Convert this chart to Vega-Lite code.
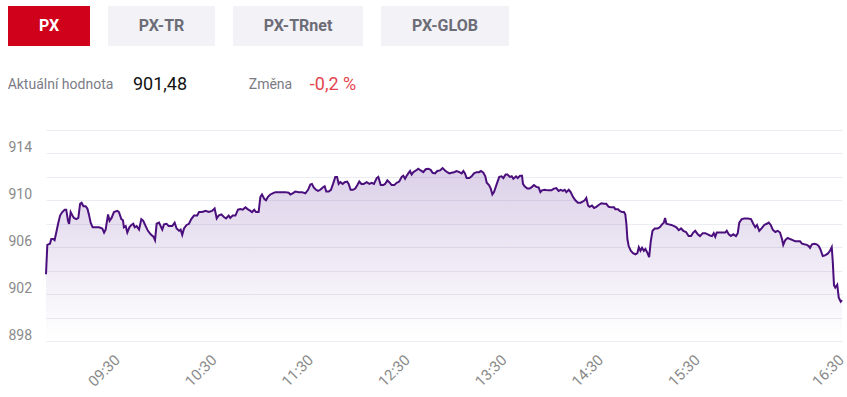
{
  "$schema": "https://vega.github.io/schema/vega-lite/v6.json",
  "background": "white",
  "padding": {"left": 7, "top": 6, "right": 0, "bottom": 0},
  "config": {"font": "Roboto", "view": {"stroke": null}},
  "spacing": 33,
  "datasets": {
    "px": [
      {"t": 540.0, "v": 903.7}, {"t": 540.6, "v": 906.2}, {"t": 541.8, "v": 906.3}, {"t": 542.4, "v": 906.7}, {"t": 543.3, "v": 906.7}, {"t": 543.9, "v": 906.6}, {"t": 544.5, "v": 907.1}, {"t": 545.5, "v": 908.0}, {"t": 546.4, "v": 908.7}, {"t": 547.4, "v": 909.0}, {"t": 548.5, "v": 909.2}, {"t": 549.2, "v": 909.2}, {"t": 550.0, "v": 908.25}, {"t": 550.5, "v": 908.0}, {"t": 551.2, "v": 909.0}, {"t": 552.0, "v": 908.7}, {"t": 552.7, "v": 908.5}, {"t": 553.8, "v": 908.4}, {"t": 554.7, "v": 908.5}, {"t": 555.5, "v": 909.7}, {"t": 556.2, "v": 909.8}, {"t": 557.0, "v": 909.5}, {"t": 558.0, "v": 909.5}, {"t": 558.8, "v": 909.3}, {"t": 559.5, "v": 908.8}, {"t": 560.3, "v": 908.1}, {"t": 561.2, "v": 907.7}, {"t": 562.6, "v": 907.7}, {"t": 564.1, "v": 907.7}, {"t": 565.6, "v": 907.6}, {"t": 566.4, "v": 907.25}, {"t": 567.1, "v": 907.5}, {"t": 568.2, "v": 908.8}, {"t": 568.9, "v": 908.25}, {"t": 569.8, "v": 908.5},
      {"t": 571.2, "v": 909.0}, {"t": 573.3, "v": 909.1}, {"t": 574.3, "v": 909.0}, {"t": 575.8, "v": 908.4}, {"t": 576.8, "v": 908.3}, {"t": 577.4, "v": 907.7}, {"t": 578.5, "v": 907.8}, {"t": 579.5, "v": 907.25}, {"t": 580.8, "v": 907.7}, {"t": 582.0, "v": 907.9}, {"t": 583.2, "v": 908.0}, {"t": 584.1, "v": 907.7}, {"t": 585.3, "v": 907.8}, {"t": 586.8, "v": 907.5}, {"t": 588.2, "v": 908.4}, {"t": 589.4, "v": 908.25}, {"t": 590.9, "v": 907.8}, {"t": 592.3, "v": 907.4}, {"t": 594.0, "v": 907.1}, {"t": 595.7, "v": 906.9}, {"t": 596.7, "v": 906.6}, {"t": 597.7, "v": 908.0}, {"t": 599.2, "v": 908.1}, {"t": 600.2, "v": 907.8}, {"t": 601.2, "v": 907.5}, {"t": 602.3, "v": 907.95}, {"t": 603.9, "v": 908.0}, {"t": 605.2, "v": 907.8}, {"t": 607.4, "v": 907.8}, {"t": 608.9, "v": 908.1}, {"t": 610.1, "v": 907.6}, {"t": 611.6, "v": 907.4}, {"t": 612.6, "v": 907.5}, {"t": 613.6, "v": 907.05}, {"t": 614.7, "v": 907.6}, {"t": 616.3, "v": 907.9}, {"t": 617.8, "v": 908.0}, {"t": 619.2, "v": 908.4}, {"t": 620.9, "v": 908.7}, {"t": 622.9, "v": 908.7}, {"t": 624.0, "v": 909.0}, {"t": 626.0, "v": 909.0}, {"t": 628.1, "v": 909.1},
      {"t": 630.0, "v": 909.0}, {"t": 632.1, "v": 909.1}, {"t": 633.7, "v": 909.3}, {"t": 635.0, "v": 908.45}, {"t": 636.2, "v": 908.7}, {"t": 637.9, "v": 908.8}, {"t": 639.3, "v": 908.6}, {"t": 640.8, "v": 908.45}, {"t": 642.4, "v": 908.7}, {"t": 643.4, "v": 908.5}, {"t": 644.9, "v": 908.7}, {"t": 646.6, "v": 908.7}, {"t": 648.2, "v": 909.2}, {"t": 649.7, "v": 909.25}, {"t": 651.1, "v": 909.2}, {"t": 652.8, "v": 909.4}, {"t": 654.2, "v": 909.25}, {"t": 655.9, "v": 909.1}, {"t": 656.9, "v": 909.0}, {"t": 658.3, "v": 909.2}, {"t": 659.4, "v": 909.0}, {"t": 661.0, "v": 909.0}, {"t": 662.1, "v": 910.3}, {"t": 663.1, "v": 910.5}, {"t": 664.6, "v": 910.1}, {"t": 665.6, "v": 910.0}, {"t": 666.8, "v": 910.3}, {"t": 668.3, "v": 910.5}, {"t": 669.7, "v": 910.6}, {"t": 671.4, "v": 910.7}, {"t": 673.4, "v": 910.7}, {"t": 675.5, "v": 910.7}, {"t": 677.6, "v": 910.7}, {"t": 679.7, "v": 910.65}, {"t": 680.7, "v": 910.5}, {"t": 682.1, "v": 910.6}, {"t": 683.8, "v": 910.75}, {"t": 685.9, "v": 910.7}, {"t": 687.9, "v": 910.7}, {"t": 690.0, "v": 910.6}, {"t": 691.7, "v": 910.9}, {"t": 693.1, "v": 911.35}, {"t": 694.1, "v": 911.4}, {"t": 695.2, "v": 911.1}, {"t": 696.6, "v": 910.9}, {"t": 697.9, "v": 910.8}, {"t": 699.3, "v": 910.9}, {"t": 700.8, "v": 911.1}, {"t": 702.0, "v": 911.2}, {"t": 703.0, "v": 910.75}, {"t": 704.5, "v": 910.75}, {"t": 705.9, "v": 910.9}, {"t": 707.2, "v": 911.4}, {"t": 708.6, "v": 912.0}, {"t": 709.7, "v": 912.0}, {"t": 710.7, "v": 911.4}, {"t": 711.7, "v": 911.55}, {"t": 713.2, "v": 911.4}, {"t": 714.4, "v": 911.55}, {"t": 715.9, "v": 911.6}, {"t": 716.9, "v": 911.4}, {"t": 718.1, "v": 910.9}, {"t": 719.6, "v": 910.9}, {"t": 721.0, "v": 911.0}, {"t": 722.3, "v": 911.3}, {"t": 723.5, "v": 911.6}, {"t": 724.8, "v": 911.4}, {"t": 726.2, "v": 911.4},
      {"t": 728.1, "v": 911.55}, {"t": 729.7, "v": 911.4}, {"t": 731.2, "v": 911.5}, {"t": 732.6, "v": 911.4}, {"t": 734.3, "v": 911.9}, {"t": 735.3, "v": 912.0}, {"t": 736.8, "v": 911.3}, {"t": 738.4, "v": 911.3}, {"t": 739.5, "v": 911.4}, {"t": 740.9, "v": 911.7}, {"t": 742.1, "v": 911.55}, {"t": 743.6, "v": 911.3}, {"t": 745.2, "v": 911.3}, {"t": 746.7, "v": 911.5}, {"t": 748.3, "v": 911.6}, {"t": 749.8, "v": 912.0}, {"t": 750.8, "v": 912.1}, {"t": 751.9, "v": 911.85}, {"t": 752.9, "v": 912.1}, {"t": 753.9, "v": 912.3}, {"t": 755.0, "v": 912.5}, {"t": 756.0, "v": 912.2}, {"t": 757.0, "v": 912.4}, {"t": 758.7, "v": 912.55}, {"t": 760.1, "v": 912.7}, {"t": 761.6, "v": 912.55}, {"t": 763.2, "v": 912.4}, {"t": 764.7, "v": 912.65}, {"t": 766.3, "v": 912.7}, {"t": 767.8, "v": 912.6}, {"t": 769.0, "v": 912.35}, {"t": 770.5, "v": 912.3}, {"t": 771.9, "v": 912.5}, {"t": 773.6, "v": 912.55}, {"t": 775.2, "v": 912.75}, {"t": 776.7, "v": 912.55}, {"t": 778.1, "v": 912.4}, {"t": 779.4, "v": 912.3}, {"t": 780.8, "v": 912.35}, {"t": 782.3, "v": 912.4}, {"t": 783.9, "v": 912.5}, {"t": 785.6, "v": 912.4}, {"t": 787.0, "v": 912.3}, {"t": 788.1, "v": 912.5}, {"t": 789.1, "v": 912.3}, {"t": 790.1, "v": 911.9}, {"t": 791.8, "v": 911.9}, {"t": 793.2, "v": 912.05}, {"t": 794.7, "v": 912.3}, {"t": 796.3, "v": 912.4}, {"t": 797.8, "v": 912.4}, {"t": 799.0, "v": 912.5}, {"t": 800.5, "v": 912.35}, {"t": 801.7, "v": 912.05}, {"t": 802.6, "v": 911.5}, {"t": 804.0, "v": 911.3}, {"t": 805.1, "v": 911.0}, {"t": 806.1, "v": 910.5}, {"t": 807.1, "v": 910.7}, {"t": 808.1, "v": 911.1}, {"t": 809.2, "v": 911.55}, {"t": 810.4, "v": 912.0}, {"t": 811.8, "v": 912.05}, {"t": 812.9, "v": 911.9}, {"t": 814.3, "v": 912.2}, {"t": 815.4, "v": 912.2}, {"t": 817.0, "v": 912.0}, {"t": 818.1, "v": 912.05}, {"t": 819.1, "v": 911.85}, {"t": 820.8, "v": 912.05}, {"t": 821.8, "v": 911.9}, {"t": 823.3, "v": 912.1},
      {"t": 824.5, "v": 912.1}, {"t": 825.1, "v": 911.4}, {"t": 826.1, "v": 911.2}, {"t": 827.8, "v": 911.0}, {"t": 829.2, "v": 911.0}, {"t": 830.7, "v": 911.15}, {"t": 831.9, "v": 911.3}, {"t": 833.4, "v": 911.15}, {"t": 834.8, "v": 911.1}, {"t": 835.9, "v": 910.7}, {"t": 836.9, "v": 910.85}, {"t": 838.6, "v": 910.9}, {"t": 840.6, "v": 910.85}, {"t": 842.7, "v": 910.85}, {"t": 844.3, "v": 911.0}, {"t": 845.8, "v": 911.05}, {"t": 847.2, "v": 910.8}, {"t": 848.5, "v": 910.9}, {"t": 849.9, "v": 910.8}, {"t": 851.0, "v": 910.9}, {"t": 852.0, "v": 910.7}, {"t": 853.5, "v": 910.9}, {"t": 854.7, "v": 910.7}, {"t": 856.1, "v": 910.3}, {"t": 857.6, "v": 910.0}, {"t": 859.2, "v": 909.8}, {"t": 860.9, "v": 909.8}, {"t": 862.3, "v": 909.9}, {"t": 863.4, "v": 910.0}, {"t": 864.4, "v": 910.2}, {"t": 865.5, "v": 909.55}, {"t": 866.5, "v": 909.45}, {"t": 867.9, "v": 909.55}, {"t": 869.2, "v": 909.35}, {"t": 870.6, "v": 909.45}, {"t": 872.1, "v": 909.6}, {"t": 873.7, "v": 909.75}, {"t": 875.4, "v": 909.7}, {"t": 876.8, "v": 909.7}, {"t": 878.3, "v": 909.45}, {"t": 879.9, "v": 909.4}, {"t": 881.6, "v": 909.4}, {"t": 882.4, "v": 909.25}, {"t": 884.1, "v": 909.25}, {"t": 885.1, "v": 909.1}, {"t": 886.6, "v": 909.0}, {"t": 887.8, "v": 909.0}, {"t": 888.6, "v": 908.8}, {"t": 889.3, "v": 907.95}, {"t": 889.9, "v": 906.7}, {"t": 890.7, "v": 906.1}, {"t": 892.0, "v": 905.7}, {"t": 893.4, "v": 905.5}, {"t": 894.9, "v": 905.4}, {"t": 896.1, "v": 905.5}, {"t": 897.0, "v": 906.0}, {"t": 898.0, "v": 905.7}, {"t": 899.0, "v": 905.95}, {"t": 900.1, "v": 905.7}, {"t": 901.1, "v": 905.85}, {"t": 902.4, "v": 905.5}, {"t": 903.4, "v": 905.15}, {"t": 904.4, "v": 906.5}, {"t": 905.5, "v": 907.4}, {"t": 906.9, "v": 907.6}, {"t": 908.6, "v": 907.6}, {"t": 910.0, "v": 907.7}, {"t": 911.4, "v": 907.95}, {"t": 912.5, "v": 908.1}, {"t": 913.3, "v": 908.5}, {"t": 914.1, "v": 908.0}, {"t": 915.6, "v": 907.95}, {"t": 917.2, "v": 907.9}, {"t": 918.9, "v": 907.8}, {"t": 920.3, "v": 907.7}, {"t": 921.8, "v": 907.45},
      {"t": 923.2, "v": 907.6}, {"t": 924.6, "v": 907.4}, {"t": 926.3, "v": 907.3}, {"t": 927.9, "v": 906.95}, {"t": 929.4, "v": 906.95}, {"t": 930.5, "v": 907.25}, {"t": 931.3, "v": 907.4}, {"t": 932.3, "v": 907.1}, {"t": 933.2, "v": 906.95}, {"t": 934.3, "v": 907.2}, {"t": 935.3, "v": 907.2}, {"t": 936.3, "v": 907.1}, {"t": 937.2, "v": 907.0}, {"t": 938.0, "v": 906.95}, {"t": 938.7, "v": 907.2}, {"t": 939.3, "v": 906.9}, {"t": 939.9, "v": 907.25}, {"t": 940.9, "v": 907.25}, {"t": 942.3, "v": 907.25}, {"t": 943.3, "v": 907.25}, {"t": 943.9, "v": 907.4}, {"t": 944.7, "v": 907.1}, {"t": 945.6, "v": 906.95}, {"t": 946.5, "v": 907.1}, {"t": 947.6, "v": 906.95}, {"t": 948.3, "v": 907.2}, {"t": 948.9, "v": 908.1}, {"t": 949.9, "v": 908.4}, {"t": 950.9, "v": 908.45}, {"t": 952.3, "v": 908.45}, {"t": 953.6, "v": 908.4}, {"t": 954.5, "v": 908.0}, {"t": 955.3, "v": 907.7}, {"t": 956.0, "v": 907.9}, {"t": 956.9, "v": 907.4}, {"t": 958.0, "v": 907.65}, {"t": 958.9, "v": 907.9}, {"t": 959.9, "v": 908.0}, {"t": 960.7, "v": 908.1}, {"t": 961.5, "v": 907.9}, {"t": 962.3, "v": 907.5}, {"t": 963.3, "v": 907.3}, {"t": 964.3, "v": 907.4}, {"t": 965.2, "v": 907.25}, {"t": 966.0, "v": 906.7}, {"t": 966.5, "v": 906.2}, {"t": 967.3, "v": 906.6}, {"t": 968.3, "v": 906.8}, {"t": 969.2, "v": 906.7}, {"t": 970.3, "v": 906.6}, {"t": 971.3, "v": 906.5}, {"t": 972.3, "v": 906.5}, {"t": 973.2, "v": 906.5}, {"t": 974.0, "v": 906.3}, {"t": 974.9, "v": 906.25}, {"t": 975.9, "v": 906.2}, {"t": 976.7, "v": 906.1}, {"t": 977.2, "v": 905.95}, {"t": 978.0, "v": 906.25}, {"t": 978.9, "v": 906.3}, {"t": 979.9, "v": 906.25}, {"t": 980.7, "v": 906.1}, {"t": 981.3, "v": 905.85}, {"t": 982.3, "v": 905.25}, {"t": 983.2, "v": 905.3}, {"t": 984.3, "v": 905.45}, {"t": 985.2, "v": 905.7}, {"t": 985.9, "v": 906.0}, {"t": 986.3, "v": 904.8}, {"t": 986.8, "v": 902.75}, {"t": 987.3, "v": 902.55}, {"t": 988.1, "v": 902.8}, {"t": 988.7, "v": 901.7}, {"t": 989.5, "v": 901.35}, {"t": 990.0, "v": 901.48}
    ]
  },
  "vconcat": [
    {
      "spacing": 27,
      "vconcat": [
        {
          "spacing": 18,
          "hconcat": [
            {"width": 82, "height": 40, "view": {"fill": "#d0021b", "stroke": null}, "data": {"values": [{"label": "PX", "active": true}]}, "mark": {"type": "text", "fontWeight": "bold", "fontSize": 16, "baseline": "middle", "align": "center"}, "encoding": {"text": {"field": "label"}, "color": {"condition": {"test": "datum.active", "value": "#ffffff"}, "value": "#6c6c76"}}},
            {"width": 107, "height": 40, "view": {"fill": "#f2f2f7", "stroke": null}, "data": {"values": [{"label": "PX-TR", "active": false}]}, "mark": {"type": "text", "fontWeight": "bold", "fontSize": 16, "baseline": "middle", "align": "center"}, "encoding": {"text": {"field": "label"}, "color": {"condition": {"test": "datum.active", "value": "#ffffff"}, "value": "#6c6c76"}}},
            {"width": 130, "height": 40, "view": {"fill": "#f2f2f7", "stroke": null}, "data": {"values": [{"label": "PX-TRnet", "active": false}]}, "mark": {"type": "text", "fontWeight": "bold", "fontSize": 16, "baseline": "middle", "align": "center"}, "encoding": {"text": {"field": "label"}, "color": {"condition": {"test": "datum.active", "value": "#ffffff"}, "value": "#6c6c76"}}},
            {"width": 128, "height": 40, "view": {"fill": "#f2f2f7", "stroke": null}, "data": {"values": [{"label": "PX-GLOB", "active": false}]}, "mark": {"type": "text", "fontWeight": "bold", "fontSize": 16, "baseline": "middle", "align": "center"}, "encoding": {"text": {"field": "label"}, "color": {"condition": {"test": "datum.active", "value": "#ffffff"}, "value": "#6c6c76"}}}
          ]
        },
        {
          "spacing": 60,
          "hconcat": [
            {
              "spacing": 18,
              "hconcat": [
                {"width": 105, "height": 24, "data": {"values": [{"text": "Aktuální hodnota"}]}, "mark": {"type": "text", "fontSize": 14, "baseline": "middle", "align": "center", "color": "#7b7b85"}, "encoding": {"text": {"field": "text"}}},
                {"width": 54, "height": 24, "data": {"values": [{"text": "901,48"}]}, "mark": {"type": "text", "fontSize": 18, "baseline": "middle", "align": "center", "color": "#111111"}, "encoding": {"text": {"field": "text"}}}
              ]
            },
            {
              "spacing": 16,
              "hconcat": [
                {"width": 43, "height": 24, "data": {"values": [{"text": "Změna"}]}, "mark": {"type": "text", "fontSize": 14, "baseline": "middle", "align": "center", "color": "#7b7b85"}, "encoding": {"text": {"field": "text"}}},
                {"width": 46, "height": 24, "data": {"values": [{"text": "-0,2 %"}]}, "mark": {"type": "text", "fontSize": 18, "baseline": "middle", "align": "center", "color": "#e3434f"}, "encoding": {"text": {"field": "text"}}}
              ]
            }
          ]
        }
      ]
    },
    {
      "spacing": 0,
      "hconcat": [
        {
          "width": 34,
          "height": 211,
          "data": {"name": "px"},
          "mark": {"type": "point", "opacity": 0},
          "encoding": {
            "y": {
              "field": "v",
              "type": "quantitative",
              "scale": {"domain": [898, 916], "nice": false, "zero": false},
              "axis": {
                "values": [898, 902, 906, 910, 914],
                "title": null,
                "domain": false,
                "ticks": false,
                "grid": false,
                "labelAlign": "left",
                "labelPadding": 0,
                "labelBaseline": "alphabetic",
                "labelOffset": -2,
                "labelFontSize": 14,
                "labelColor": "#8a8a8a"
              }
            }
          }
        },
        {
          "width": 796,
          "height": 211,
          "data": {"name": "px"},
          "encoding": {
            "x": {
              "field": "t",
              "type": "quantitative",
              "scale": {"domain": [540, 570, 930, 990], "range": [0, 66, 646, 796], "nice": false, "zero": false},
              "axis": {
                "values": [570, 630, 690, 750, 810, 870, 930, 990],
                "labelExpr": "utcFormat(datum.value * 60000, '%H:%M')",
                "title": null,
                "grid": false,
                "ticks": false,
                "domain": true,
                "domainColor": "#ececf3",
                "labelAngle": -45,
                "labelAlign": "right",
                "labelBaseline": "top",
                "labelPadding": 11,
                "labelOffset": {"condition": {"test": "datum.value >= 990", "value": -6}, "value": 0},
                "labelFontSize": 15,
                "labelColor": "#8a8a8a",
                "labelFlush": false,
                "labelOverlap": false,
                "labelBound": false
              }
            },
            "y": {
              "field": "v",
              "type": "quantitative",
              "scale": {"domain": [898, 916], "nice": false, "zero": false},
              "axis": {
                "orient": "right",
                "values": [898, 900, 902, 904, 906, 908, 910, 912, 914, 916],
                "labels": false,
                "title": null,
                "domain": false,
                "ticks": false,
                "gridColor": "#ececf3"
              }
            }
          },
          "layer": [
            {
              "mark": {
                "type": "area",
                "color": {
                  "gradient": "linear",
                  "x1": 0, "y1": 0, "x2": 0, "y2": 1,
                  "stops": [
                    {"offset": 0, "color": "rgba(115,70,165,0.25)"},
                    {"offset": 1, "color": "rgba(115,70,165,0)"}
                  ]
                }
              },
              "encoding": {"y2": {"datum": 898}}
            },
            {
              "mark": {"type": "line", "color": "#4b0f7d", "strokeWidth": 2}
            }
          ]
        }
      ]
    }
  ]
}
